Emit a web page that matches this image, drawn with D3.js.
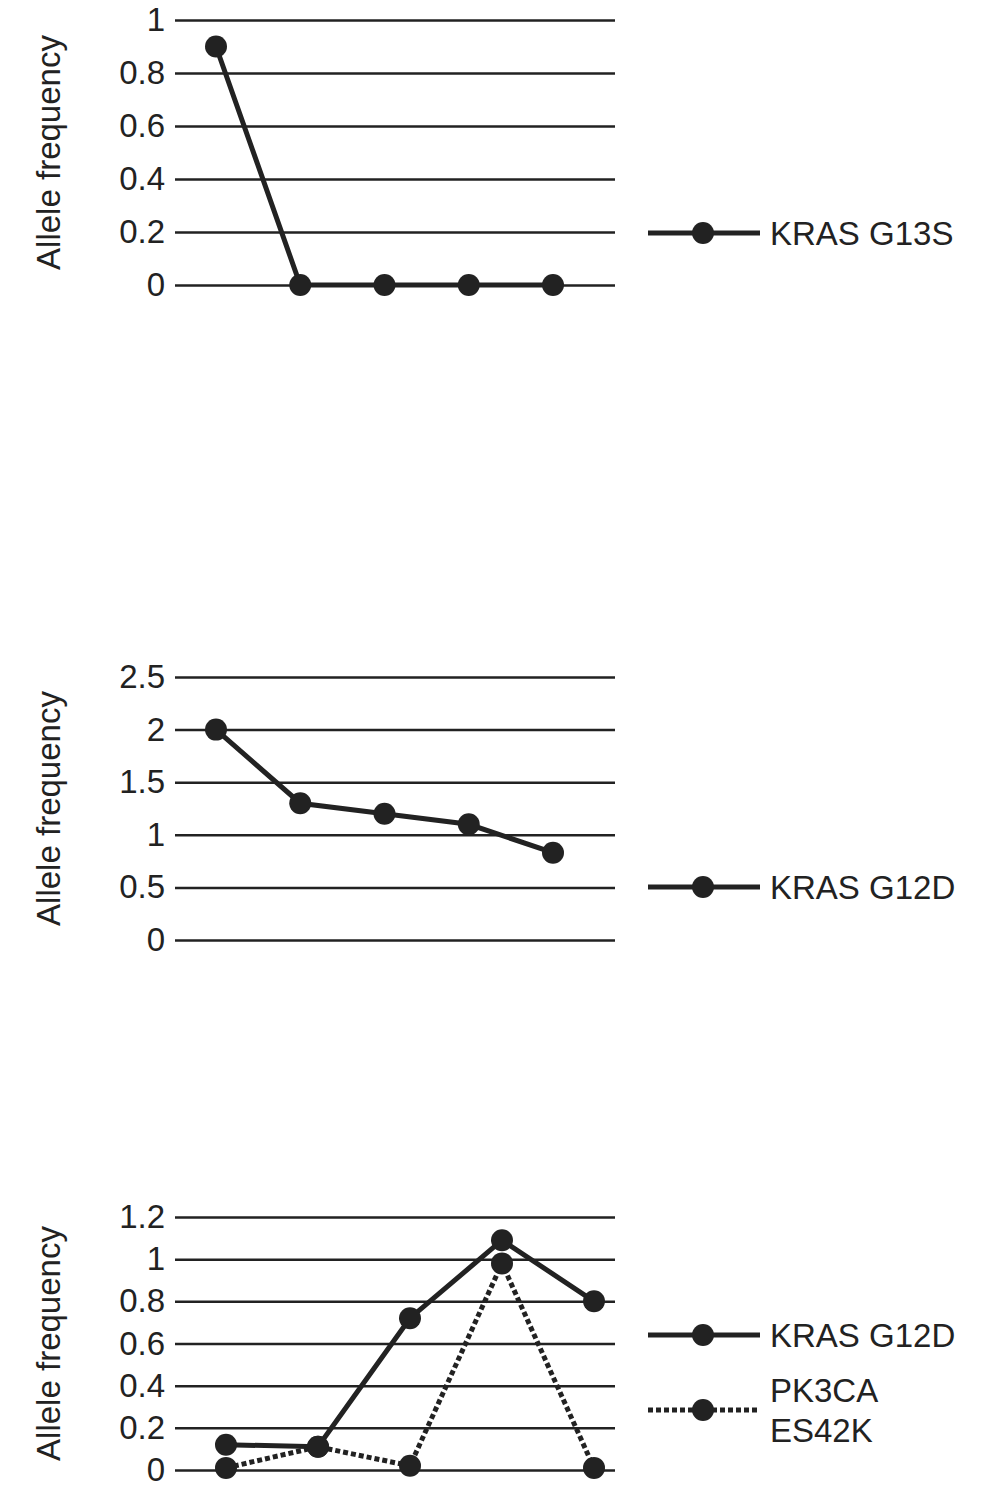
<!DOCTYPE html>
<html><head><meta charset="utf-8">
<script src="https://cdn.jsdelivr.net/npm/d3@7"></script>
<style>body{margin:0;background:#fff}</style>
</head><body>
<script>
var samples = [1, 2, 3, 4, 5];
var krasG13S = [0.9, 0, 0, 0, 0];
var krasG12Da = [2.0, 1.3, 1.2, 1.1, 0.83];
var krasG12Db = [0.12, 0.11, 0.72, 1.09, 0.80];
var pk3ca = [0.01, 0.11, 0.02, 0.98, 0.01];
var ticks1 = [0, 0.2, 0.4, 0.6, 0.8, 1];
var ticks2 = [0, 0.5, 1, 1.5, 2, 2.5];
var ticks3 = [0, 0.2, 0.4, 0.6, 0.8, 1, 1.2];

var ink = "#222";
var font = "Liberation Sans, Arial, sans-serif";
var fs = 33;

var svg = d3.select("body").append("svg")
    .attr("width", 992).attr("height", 1486);

function panel(opts) {
    var y = d3.scaleLinear().domain([0, d3.max(opts.ticks)]).range([opts.y0, opts.y1]);
    var x = d3.scalePoint().domain(samples).range(opts.xr);
    var g = svg.append("g");

    g.append("g")
        .attr("transform", "translate(175,0)")
        .call(d3.axisLeft(y).tickValues(opts.ticks).tickSize(-440).tickPadding(10)
            .tickFormat(function(d) { return d; }))
        .call(function(a) {
            a.select(".domain").remove();
            a.selectAll("line").attr("stroke", ink).attr("stroke-width", 2.5);
            a.selectAll("text").attr("font-size", fs).attr("font-family", font).attr("fill", ink);
        });

    g.append("text")
        .attr("transform", "translate(60," + ((opts.y0 + opts.y1) / 2) + ") rotate(-90)")
        .attr("text-anchor", "middle")
        .attr("font-size", fs).attr("font-family", font).attr("fill", ink)
        .text("Allele frequency");

    opts.series.forEach(function(s) {
        var line = d3.line().x(function(d, i) { return x(samples[i]); }).y(function(d) { return y(d); });
        g.append("path").datum(s.values)
            .attr("d", line).attr("fill", "none").attr("stroke", ink)
            .attr("stroke-width", 5).attr("stroke-dasharray", s.dash ? "5,3" : null);
        g.selectAll(null).data(s.values).enter().append("circle")
            .attr("cx", function(d, i) { return x(samples[i]); })
            .attr("cy", function(d) { return y(d); })
            .attr("r", 11).attr("fill", ink);

        g.append("line").attr("x1", 648).attr("x2", 760)
            .attr("y1", s.ly).attr("y2", s.ly)
            .attr("stroke", ink).attr("stroke-width", 5).attr("stroke-dasharray", s.dash ? "5,3" : null);
        g.append("circle").attr("cx", 703).attr("cy", s.ly).attr("r", 11).attr("fill", ink);
        var t = g.append("text").attr("x", 770).attr("font-size", fs)
            .attr("font-family", font).attr("fill", ink);
        s.label.forEach(function(l, i) {
            t.append("tspan").attr("x", 770)
                .attr("y", s.ly + 12 + (i - (s.label.length - 1) / 2) * 40).text(l);
        });
    });
}

panel({ ticks: ticks1, y0: 285, y1: 20, xr: [216, 553],
    series: [{ values: krasG13S, label: ["KRAS G13S"], ly: 233 }] });
panel({ ticks: ticks2, y0: 940, y1: 677, xr: [216, 553],
    series: [{ values: krasG12Da, label: ["KRAS G12D"], ly: 887 }] });
panel({ ticks: ticks3, y0: 1470, y1: 1217, xr: [226, 594],
    series: [{ values: krasG12Db, label: ["KRAS G12D"], ly: 1335 },
             { values: pk3ca, label: ["PK3CA", "ES42K"], ly: 1410, dash: true }] });
</script>
</body></html>
